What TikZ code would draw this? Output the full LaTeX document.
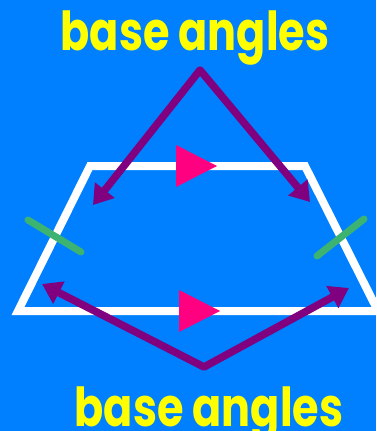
\documentclass[tikz,border=0pt]{standalone}
\usepackage{fontspec}
\setmainfont{Poppins}
\usetikzlibrary{arrows.meta}
\definecolor{BoardBlue}{HTML}{0080FF}
\definecolor{LabelYellow}{HTML}{FFFF00}
\definecolor{AngleViolet}{HTML}{800080}
\definecolor{TickGreen}{HTML}{3CB371}
\definecolor{MarkPink}{HTML}{FF0080}

\begin{document}
\begin{tikzpicture}[x=1pt,y=-1pt,
    side/.style={draw=white,line width=8pt,line join=miter,line cap=round},
    pointer/.style={draw=AngleViolet,line width=7.5pt,line join=round,
      {Triangle[length=19pt,width=24pt]}-{Triangle[length=19pt,width=24pt]}},
    tickmark/.style={draw=TickGreen,line width=7pt,line cap=round},
    anglelabel/.style={text=LabelYellow,inner sep=0pt,anchor=base,
      font=\fontsize{43}{43}\selectfont\bfseries}]
  \fill[BoardBlue] (0,0) rectangle (376,431);
  \useasboundingbox (0,0) rectangle (376,431);

  % trapezium
  \coordinate (tl) at (90,166);
  \coordinate (tr) at (305,166);
  \coordinate (br) at (378,311);
  \coordinate (bl) at (18,311);
  \draw[side] (bl) -- (tl) -- (tr) -- (br) -- cycle;

  % parallel marks
  \fill[MarkPink] (176,145) -- (176,187) -- (217,166) -- cycle;
  \fill[MarkPink] (179,290) -- (179,332) -- (220,311) -- cycle;

  % equal legs
  \draw[tickmark] (28,220) -- (81,252);
  \draw[tickmark] (317,256) -- (364,219);

  % labels
  \node[anglelabel] (toplabel) at (195,50) {\scalebox{1}[1.25]{base angles}};
  \node[anglelabel] (botlabel) at (209,426) {\scalebox{1}[1.25]{base angles}};

  % pointers to the angles
  \coordinate (topapex) at (200,70);
  \coordinate (topleft) at (93,205);
  \coordinate (topright) at (310,202);
  \draw[pointer] (topleft) -- (topapex) -- (topright);

  \coordinate (botapex) at (204,367);
  \coordinate (botleft) at (42,284);
  \coordinate (botright) at (349,288);
  \draw[pointer] (botleft) -- (botapex) -- (botright);
\end{tikzpicture}
\end{document}
